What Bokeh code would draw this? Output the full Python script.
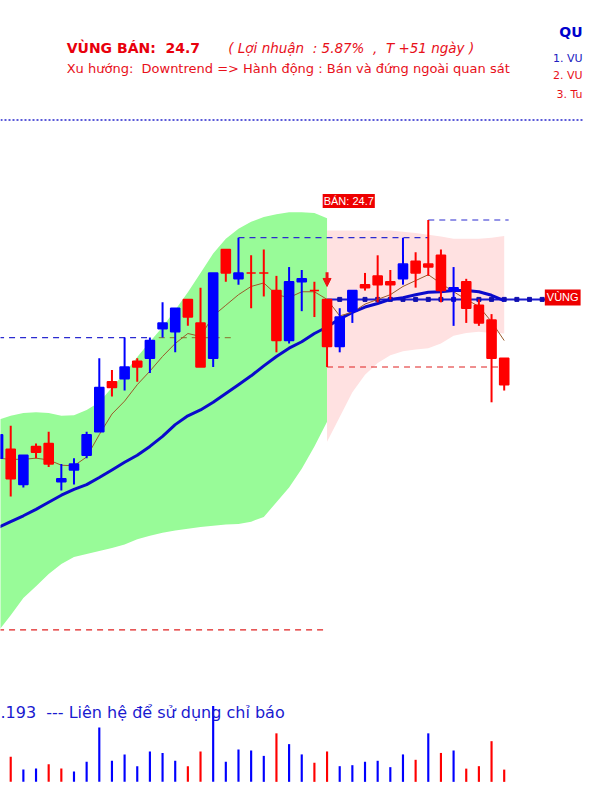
from bokeh.plotting import figure
from bokeh.models import Range1d, Label, Span, Arrow, NormalHead, ColumnDataSource
from bokeh.embed import file_html
from bokeh.resources import INLINE

# ---------------- data ----------------
days = list(range(41))
opens = [22.0, 22.15, 21.55, 22.2, 22.25, 21.6, 21.8, 22.05, 22.45, 23.3,
         23.35, 23.65, 23.7, 24.2, 24.15, 24.7, 24.3, 23.7, 25.55, 25.05,
         25.15, 25.15, 24.85, 24.0, 25.0, 24.85, 24.7, 23.9, 24.5, 24.95,
         25.1, 25.0, 25.05, 25.35, 25.3, 25.45, 24.85, 25.0, 24.6, 24.35, 23.7]
highs = [22.45, 22.55, 22.05, 22.25, 22.45, 21.9, 22.0, 22.45, 23.7, 23.5,
         24.05, 23.7, 24.05, 24.65, 24.55, 24.7, 24.9, 25.15, 25.55, 25.75,
         25.45, 25.55, 25.1, 25.25, 25.2, 25.0, 24.7, 24.55, 24.85, 25.15,
         25.45, 25.2, 25.75, 25.5, 26.05, 25.55, 25.25, 25.05, 24.7, 24.45, 23.7]
lows = [21.95, 21.35, 21.5, 22.0, 21.85, 21.45, 21.55, 22.0, 22.45, 23.05,
        23.15, 23.3, 23.45, 24.05, 23.8, 24.25, 23.55, 23.55, 25.0, 24.95,
        24.55, 24.75, 23.8, 23.95, 24.5, 24.4, 23.55, 23.8, 24.3, 24.85,
        24.65, 24.7, 24.95, 24.9, 25.1, 24.65, 24.25, 24.3, 24.25, 22.95, 23.15]
closes = [22.4, 21.65, 22.05, 22.1, 21.9, 21.65, 21.9, 22.4, 23.2, 23.2,
          23.55, 23.55, 24.0, 24.3, 24.55, 24.4, 23.55, 25.15, 25.15, 25.15,
          25.15, 25.15, 24.0, 25.0, 25.05, 24.85, 23.9, 24.4, 24.85, 24.9,
          24.95, 24.95, 25.3, 25.15, 25.25, 24.85, 24.9, 24.55, 24.3, 23.7, 23.25]

ma_fast = [22.0, 21.98, 21.98, 22.0, 21.97, 21.88, 21.87, 22.02, 22.4, 22.75,
           22.97, 23.25, 23.48, 23.73, 23.95, 24.12, 24.07, 24.42, 24.6, 24.78,
           24.92, 24.98, 24.78, 24.73, 24.83, 24.83, 24.7, 24.42, 24.48, 24.62,
           24.7, 24.78, 24.92, 25.02, 25.12, 24.97, 24.83, 24.7, 24.58, 24.32, 24.0]
ma_slow = [20.82, 20.92, 21.02, 21.13, 21.25, 21.37, 21.47, 21.55, 21.67, 21.8,
           21.93, 22.05, 22.2, 22.37, 22.57, 22.72, 22.82, 22.95, 23.1, 23.25,
           23.4, 23.57, 23.73, 23.87, 23.98, 24.12, 24.23, 24.37, 24.48, 24.57,
           24.63, 24.7, 24.73, 24.78, 24.82, 24.83, 24.85, 24.85, 24.83, 24.77, 24.68]

# up-trend band (days 0..26)
green_upper = [22.65, 22.72, 22.77, 22.78, 22.77, 22.72, 22.73, 22.82, 22.95, 23.2,
               23.45, 23.72, 23.98, 24.23, 24.52, 24.82, 25.15, 25.48, 25.73, 25.9,
               26.02, 26.1, 26.15, 26.18, 26.18, 26.17, 26.08]
green_lower = [19.05, 19.33, 19.62, 19.82, 20.03, 20.2, 20.32, 20.37, 20.42, 20.47,
               20.53, 20.62, 20.68, 20.73, 20.77, 20.8, 20.83, 20.85, 20.87, 20.88,
               20.92, 21.0, 21.25, 21.5, 21.82, 22.2, 22.62]
# sell-zone band (days 26..40)
pink_upper = [25.87, 25.87, 25.87, 25.87, 25.87, 25.87, 25.85, 25.83, 25.8, 25.77,
              25.73, 25.73, 25.73, 25.75, 25.78]
pink_lower = [22.28, 22.7, 23.12, 23.42, 23.62, 23.75, 23.82, 23.85, 23.87, 23.95,
              24.08, 24.13, 24.15, 24.13, 24.12]

vol_days = list(range(1, 41))
volumes = [255, 125, 135, 180, 135, 105, 205, 555, 215, 280,
           160, 310, 295, 215, 160, 310, 775, 205, 330, 320,
           265, 495, 385, 280, 195, 310, 160, 170, 205, 215,
           150, 280, 225, 495, 295, 320, 135, 160, 415, 125]
vol_up = [0, 1, 1, 0, 0, 1, 1, 1, 1, 1, 1, 1, 1, 1, 0, 0, 1, 1, 1, 1,
          1, 0, 1, 1, 0, 0, 1, 1, 1, 1, 1, 1, 0, 1, 0, 1, 0, 0, 0, 0]

sell_day = 26
sell_price = 24.7
stop_level = 19.08
zone_end_day = 43.5

# horizontal levels: price, start day, end day, colour
lvl_price = [highs[10], highs[10], highs[19], highs[34], lows[26], stop_level]
lvl_x0 = [0, 12.7, 19, 34, 26, 0]
lvl_x1 = [12.1, 18.4, 34, 40.35, 40, 25.8]
lvl_col = ["#2b2bd0", "#8d8a40", "#2b2bd0", "#2b2bd0", "#e02020", "#e02020"]

# ---------------- layout helpers ----------------
W, H = 584, 784
REF_W, REF_H = 600.0, 800.0
X_LEFT, X_RIGHT = 0.1923, 46.3462
P_TOP, P_BOT = 29.7833, 16.45
V_BOT, V_TOP = -27, 7973


def sx(px):
    return X_LEFT + px / REF_W * (X_RIGHT - X_LEFT)


def sy(py):
    return P_TOP - py / REF_H * (P_TOP - P_BOT)


RED = "#ff0000"
BLUE = "#0000ff"
NB = "\u00a0"

p = figure(width=W, height=H, x_range=Range1d(X_LEFT, X_RIGHT),
           y_range=Range1d(P_BOT, P_TOP), output_backend="svg",
           toolbar_location=None, x_axis_type=None, y_axis_type=None,
           min_border=0)
p.grid.visible = False
p.outline_line_color = None
p.background_fill_color = "white"
p.border_fill_color = "white"
p.extra_y_ranges = {"vol": Range1d(V_BOT, V_TOP)}

# bands
p.varea(x=days[:27], y1=green_lower, y2=green_upper, fill_color="#98fb98")
p.varea(x=days[26:], y1=pink_lower, y2=pink_upper, fill_color="#ffe1e1")

# level lines
p.segment(x0=lvl_x0, y0=lvl_price, x1=lvl_x1, y1=lvl_price, line_color=lvl_col,
          line_width=1.2, line_dash="6 5")

# sell zone line with day markers
p.line(x=[sell_day, zone_end_day], y=[sell_price, sell_price], line_color="#1a1ad0", line_width=2)
zone_days = list(range(sell_day + 1, 44))
p.scatter(x=zone_days, y=[sell_price] * len(zone_days), marker="square", size=4,
          fill_color="#1010b0", line_color="#1010b0")

# moving averages
p.line(x=days, y=ma_slow, line_color="#0a0acc", line_width=3)
p.line(x=days, y=ma_fast, line_color="#9a5a2a", line_width=1)

# candles
colors = [BLUE if c > o else RED for o, c in zip(opens, closes)]
src = ColumnDataSource(dict(x=days, top=[max(o, c) for o, c in zip(opens, closes)],
                            bottom=[min(o, c) for o, c in zip(opens, closes)],
                            high=highs, low=lows, color=colors))
p.segment(x0="x", y0="low", x1="x", y1="high", line_color="color", line_width=2, source=src)
p.vbar(x="x", top="top", bottom="bottom", width=0.72, fill_color="color",
       line_color="color", line_width=1.5, source=src)

# volume
vcol = [BLUE if u else RED for u in vol_up]
p.vbar(x=vol_days, top=volumes, bottom=0, width=0.17, fill_color=vcol,
       line_color=None, y_range_name="vol")

# sell arrow
p.add_layout(Arrow(end=NormalHead(size=8, fill_color="#ee1111", line_color="#ee1111"),
                   x_start=sell_day, y_start=highs[sell_day] + 0.46,
                   x_end=sell_day, y_end=highs[sell_day] + 0.22,
                   line_color="#ee1111", line_width=3))

# separator
p.add_layout(Span(location=sy(122), dimension="width", line_color="#5a5ad8",
                  line_width=2, line_dash="2 2"))

HF = "DejaVu Sans"
AF = "Liberation Sans"


def lab(x, y, text, color, size, font=HF, style="normal", align="left", **kw):
    p.add_layout(Label(x=sx(x), y=sy(y), text=text, text_color=color,
                       text_font_size=size, text_font=font, text_font_style=style,
                       text_align=align, text_baseline="middle", **kw))


lab(68, 48, "VÙNG BÁN:" + NB + " 24.7", "#e8000c", "14px", style="bold")
lab(234, 48, "( Lợi nhuận" + NB + " : 5.87%" + NB + " ," + NB + " T +51 ngày )",
    "#e8101a", "13.5px", style="italic")
lab(68, 69, "Xu hướng:" + NB + " Downtrend => Hành động : Bán và đứng ngoài quan sát",
    "#e8101a", "13px")
lab(598, 32, "QU", "#0000cc", "14px", style="bold", align="right")
lab(598, 59, "1. VU", "#2020c0", "11px", align="right")
lab(598, 77, "2. VU", "#e8101a", "11px", align="right")
lab(598, 96, "3. Tu", "#e8101a", "11px", align="right")

lab(331, 204.5, "BÁN: 24.7", "white", "11px", font=AF,
    background_fill_color="#ee0000", padding=1)
lab(596, 303, "VÙNG", "white", "11px", font=AF, align="right",
    background_fill_color="#ee0000", padding=2)

lab(292, 727, ".193" + NB + " --- Liên hệ để sử dụng chỉ báo", "#1a1ad0", "16px", align="right")

open("out.html", "w").write(file_html(p, INLINE))
